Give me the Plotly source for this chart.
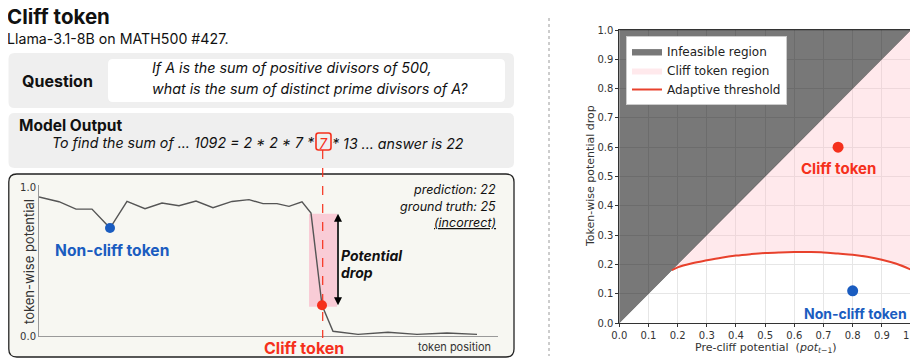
import plotly.graph_objects as go

W, H = 918, 360
OFF = 8  # page body margin compensation
def X(px): return (px - OFF) / W
def Y(py): return 1 - (py - OFF) / H

# ---------------- data ----------------
# left: token-wise potential along the generated answer
token_pos = [0, 20, 37, 53, 71, 88, 106, 123, 140, 157, 174, 193, 210, 224, 238,
             250, 263, 272, 283, 294, 319, 349, 378, 408, 438]
potential = [0.939, 0.907, 0.857, 0.857, 0.729, 0.909, 0.860, 0.898, 0.880, 0.912,
             0.867, 0.909, 0.921, 0.894, 0.894, 0.876, 0.907, 0.830, 0.208, 0.032,
             0.011, 0.025, 0.011, 0.020, 0.011]
noncliff_idx = 4
cliff_idx = 18
pre_cliff_idx = 17

# right: adaptive threshold curve
thr_x = [0.18, 0.2, 0.25, 0.3, 0.35, 0.4, 0.45, 0.5, 0.55, 0.6, 0.65, 0.7, 0.75,
         0.8, 0.85, 0.9, 0.95, 1.0]
thr_y = [0.18, 0.190, 0.204, 0.214, 0.223, 0.230, 0.235, 0.239, 0.241, 0.242, 0.242,
         0.241, 0.237, 0.233, 0.226, 0.216, 0.202, 0.182]
cliff_pt = (0.75, 0.60)
noncliff_pt = (0.80, 0.11)
ticks = [round(i * 0.1, 1) for i in range(11)]

RED = "#f5301c"
BLUE = "#1a5cc0"
LFONT = "Inter"
MFONT = "DejaVu Sans"

fig = go.Figure()

# ---------------- right chart ----------------
fig.add_trace(go.Scatter(
    x=[0, 1, 0, 0], y=[0, 1, 1, 0], mode="lines", fill="toself",
    fillcolor="rgba(0,0,0,0.53)", line=dict(width=0.5, color="rgba(0,0,0,0.6)"),
    name="Infeasible region", xaxis="x", yaxis="y", hoverinfo="skip"))
fig.add_trace(go.Scatter(
    x=thr_x + [1.0, thr_x[0]], y=thr_y + [1.0, thr_y[0]], mode="lines", fill="toself",
    fillcolor="rgba(255,190,200,0.34)", line=dict(width=0, color="rgba(255,190,200,0.34)"),
    name="Cliff token region", xaxis="x", yaxis="y", hoverinfo="skip"))
fig.add_trace(go.Scatter(
    x=thr_x, y=thr_y, mode="lines", line=dict(color="#e8412c", width=2, shape="spline"),
    name="Adaptive threshold", xaxis="x", yaxis="y"))
fig.add_trace(go.Scatter(
    x=[cliff_pt[0]], y=[cliff_pt[1]], mode="markers",
    marker=dict(color=RED, size=11), showlegend=False, xaxis="x", yaxis="y"))
fig.add_trace(go.Scatter(
    x=[noncliff_pt[0]], y=[noncliff_pt[1]], mode="markers",
    marker=dict(color=BLUE, size=11), showlegend=False, xaxis="x", yaxis="y"))

# ---------------- left small chart ----------------
fig.add_trace(go.Scatter(
    x=token_pos, y=potential, mode="lines", line=dict(color="#555555", width=1.4),
    showlegend=False, xaxis="x2", yaxis="y2"))
fig.add_trace(go.Scatter(
    x=[token_pos[noncliff_idx]], y=[potential[noncliff_idx]], mode="markers",
    marker=dict(color=BLUE, size=10), showlegend=False, xaxis="x2", yaxis="y2"))
fig.add_trace(go.Scatter(
    x=[token_pos[cliff_idx]], y=[potential[cliff_idx]], mode="markers",
    marker=dict(color=RED, size=10), showlegend=False, xaxis="x2", yaxis="y2"))


def rrect(x0, y0, x1, y1, r):
    def p(px, py):
        return f"{X(px):.5f},{Y(py):.5f}"
    return (f"M {p(x0 + r, y0)} L {p(x1 - r, y0)} Q {p(x1, y0)} {p(x1, y0 + r)} "
            f"L {p(x1, y1 - r)} Q {p(x1, y1)} {p(x1 - r, y1)} "
            f"L {p(x0 + r, y1)} Q {p(x0, y1)} {p(x0, y1 - r)} "
            f"L {p(x0, y0 + r)} Q {p(x0, y0)} {p(x0 + r, y0)} Z")


shapes = [
    dict(type="path", path=rrect(8.5, 53, 514, 108, 6), xref="paper", yref="paper",
         fillcolor="#efefef", line=dict(width=0), layer="below"),
    dict(type="path", path=rrect(108, 59, 505, 102, 5), xref="paper", yref="paper",
         fillcolor="#ffffff", line=dict(width=0), layer="below"),
    dict(type="path", path=rrect(8.5, 113, 514, 168, 6), xref="paper", yref="paper",
         fillcolor="#efefef", line=dict(width=0), layer="below"),
    dict(type="path", path=rrect(8.8, 174, 514, 357, 8), xref="paper", yref="paper",
         fillcolor="#f7f7f2", line=dict(width=1.3, color="#222222"), layer="below"),
    # pink potential-drop rectangle
    dict(type="rect", xref="x2", yref="y2", x0=270, x1=298,
         y0=potential[cliff_idx] - 0.01, y1=potential[pre_cliff_idx] - 0.005,
         fillcolor="rgba(250,175,195,0.6)", line=dict(width=0), layer="below"),
    # red dashed vertical line
    dict(type="line", xref="paper", yref="paper", x0=X(322.7), x1=X(322.7),
         y0=Y(150), y1=Y(338), line=dict(color=RED, width=1.2, dash="dash")),
    # red box around "7"
    dict(type="path", path=rrect(316, 133, 331, 150, 2.5), xref="paper", yref="paper",
         fillcolor="rgba(0,0,0,0)", line=dict(width=1.6, color=RED)),
    # separator
    dict(type="line", xref="paper", yref="paper", x0=X(549), x1=X(549), y0=Y(18), y1=Y(356),
         line=dict(color="#9a9a9a", width=1, dash="dot")),
]

ann = []
def txt(text, px, py, size, color="#111111", xanchor="left", bold=False, italic=False,
        font=LFONT, angle=0, yanchor="middle"):
    t = text
    if italic:
        t = f"<i>{t}</i>"
    if bold:
        t = f"<b>{t}</b>"
    ann.append(dict(text=t, x=X(px), y=Y(py), xref="paper", yref="paper",
                    xanchor=xanchor, yanchor=yanchor, showarrow=False, borderpad=0,
                    textangle=angle, font=dict(family=font, size=size, color=color)))

txt("Cliff token", 6, 16.5, 20.5, bold=True)
txt("Llama-3.1-8B on MATH500 #427.", 6, 38, 14.2)
txt("Question", 21, 81, 16, bold=True)
txt("If A is the sum of positive divisors of 500,", 151, 68, 14.3, italic=True)
txt("what is the sum of distinct prime divisors of A?", 151, 89, 14.3, italic=True)
txt("Model Output", 18, 126, 15.5, bold=True)
txt("To find the sum of ... 1092 = 2 * 2 * 7 *", 316, 143, 14.2, italic=True, xanchor="right")
txt("7", 323.5, 143, 14.2, color=RED, italic=True, xanchor="center")
txt("* 13 ... answer is 22", 331, 143, 14.2, italic=True)

txt("prediction: 22", 497, 189, 12.5, italic=True, xanchor="right")
txt("ground truth: 25", 497, 206, 12.5, italic=True, xanchor="right")
txt("<u>(incorrect)</u>", 497, 222, 12.5, italic=True, xanchor="right")
txt("token-wise potential", 29, 262, 13, color="#333333", angle=-90, xanchor="center")
txt("token position", 492, 347, 11, color="#333333", xanchor="right")
txt("Non-cliff token", 112, 250, 15.6, color=BLUE, bold=True, xanchor="center")
txt("Cliff token", 304, 348, 16, color=RED, bold=True, xanchor="center")
txt("Potential", 340, 255, 14, bold=True, italic=True)
txt("drop", 340, 272, 14, bold=True, italic=True)

txt("Token-wise potential drop", 590, 176, 11, color="#333333", angle=-90,
    xanchor="center", font=MFONT)
txt("Pre-cliff potential  (<i>pot</i><sub><i>t</i>−1</sub>)", 766, 348, 11,
    color="#333333", xanchor="center", font=MFONT)
txt("Cliff token", 838, 168, 15, color=RED, bold=True, xanchor="center")
txt("Non-cliff token", 908, 313, 14, color=BLUE, bold=True, xanchor="right")

# double-headed arrow for potential drop
ann.append(dict(x=299, y=potential[pre_cliff_idx] - 0.005, ax=299,
                ay=potential[cliff_idx] - 0.01, xref="x2", yref="y2", axref="x2",
                ayref="y2", text="", showarrow=True, arrowhead=2, arrowside="end+start",
                arrowwidth=1.6, arrowsize=1, arrowcolor="#000000"))

axis_common = dict(showgrid=True, gridcolor="#e6e6e6", gridwidth=0.8, zeroline=False,
                   showline=True, linecolor="#333333", linewidth=1, mirror=True,
                   ticks="outside", ticklen=3, tickcolor="#333333", automargin=False,
                   tickfont=dict(family=MFONT, size=10, color="#333333"),
                   range=[0, 1], tickvals=ticks, ticktext=[f"{t:.1f}" for t in ticks])

fig.update_layout(
    width=W, height=H, margin=dict(l=0, r=0, t=0, b=0),
    paper_bgcolor="white", plot_bgcolor="rgba(0,0,0,0)",
    xaxis=dict(domain=[X(619.3), X(911)], anchor="y", **axis_common),
    yaxis=dict(domain=[Y(323), Y(30)], anchor="x", **axis_common),
    xaxis2=dict(domain=[X(39), X(498)], anchor="y2", range=[0, 459], showgrid=False,
                zeroline=False, showline=True, linecolor="#9a9a9a", linewidth=1,
                showticklabels=False, ticks="", automargin=False),
    yaxis2=dict(domain=[Y(336), Y(185)], anchor="x2", range=[0, 1.02], showgrid=False,
                zeroline=False, showline=True, linecolor="#9a9a9a", linewidth=1,
                tickvals=[0, 1], ticktext=["0.0", "1.0"], ticks="", automargin=False,
                tickfont=dict(family=MFONT, size=10, color="#333333")),
    legend=dict(x=X(626), y=Y(36), xanchor="left", yanchor="top", bgcolor="white",
                bordercolor="#cccccc", borderwidth=1,
                font=dict(family=MFONT, size=12, color="#222222"),
                itemwidth=30, tracegroupgap=0),
    shapes=shapes, annotations=ann, showlegend=True,
)

fig.write_html("out.html")
